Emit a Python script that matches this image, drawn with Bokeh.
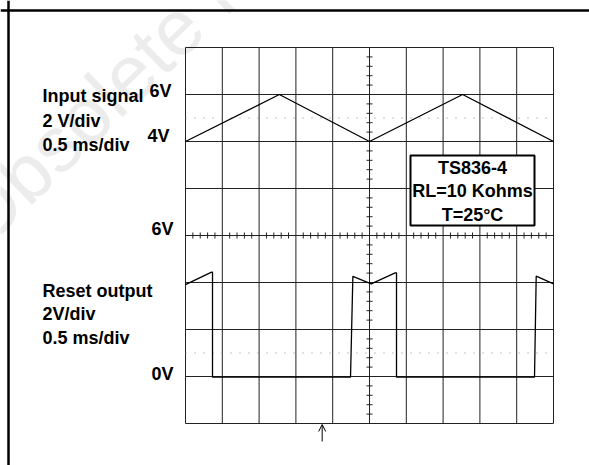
import numpy as np
from bokeh.plotting import figure
from bokeh.models import Range1d, Label, Span, Arrow, OpenHead
from bokeh.embed import file_html
from bokeh.resources import INLINE

# ---------------- data ----------------
# input signal (time in ms, volts)
input_t = [0.0, 1.275, 2.5, 3.765, 5.0]
input_v = [4.0, 6.0, 4.0, 6.0, 4.0]
# reset output (time in ms, volts)
reset_t = [0.0, 0.354, 0.367, 0.367, 2.242, 2.274, 2.523, 2.849, 2.867, 2.867, 4.742, 4.765, 5.0]
reset_v = [3.91, 4.44, 4.44, -0.03, -0.03, 4.26, 3.94, 4.41, 4.41, -0.03, -0.03, 4.27, 3.94]
input_labels = ["Input signal", "2 V/div", "0.5 ms/div"]
reset_labels = ["Reset output", "2V/div", "0.5 ms/div"]
level_labels = ["6V", "4V", "6V", "0V"]
box_lines = ["TS836-4", "RL=10 Kohms", "T=25°C"]
ms_per_div = 0.5
v_per_div = 2.0
n_xdiv = 10
n_ydiv = 8
input_ref_div, input_ref_v = 6, 4.0   # 4V at division 6
reset_ref_div, reset_ref_v = 1, 0.0   # 0V at division 1
trigger_t = 1.857

# ---------------- layout (page pixels) ----------------
W, H = 589, 465
OX, OY = 0, 0
gx0, gx1 = 185.0, 553.0
gy0, gy1 = 47.0, 423.0
dxp = (gx1 - gx0) / n_xdiv
dyp = (gy1 - gy0) / n_ydiv
TXT_DY = 7  # label baseline correction

def px_t(px):
    return (px - gx0) / dxp * ms_per_div

def py_d(py):
    return (gy1 - py) / dyp

x_range = Range1d(px_t(OX), px_t(OX + W))
y_range = Range1d(py_d(OY + H), py_d(OY))

p = figure(width=W, height=H, x_range=x_range, y_range=y_range,
           x_axis_type=None, y_axis_type=None, toolbar_location=None,
           output_backend="svg", min_border=0)
p.outline_line_color = None
p.grid.visible = False
p.background_fill_color = "white"

d0, d1 = y_range.start, y_range.end
p.extra_y_ranges = {
    "input": Range1d(input_ref_v + v_per_div * (d0 - input_ref_div),
                     input_ref_v + v_per_div * (d1 - input_ref_div)),
    "reset": Range1d(reset_ref_v + v_per_div * (d0 - reset_ref_div),
                     reset_ref_v + v_per_div * (d1 - reset_ref_div)),
}

FONT = "Liberation Sans"
FS = "18px"

def sx(px):
    return px - OX

def sy(py):
    return OY + H - py

# watermark
p.add_layout(Label(x=sx(-4), y=sy(262), x_units="screen", y_units="screen",
                   text="Obsolete Product(s)", angle=44, angle_units="deg",
                   text_font=FONT, text_font_size="78px", text_color="#ececec",
                   level="underlay"))

# graticule
xt = [ms_per_div * i for i in range(n_xdiv + 1)]
p.segment(x0=xt, y0=[0] * len(xt), x1=xt, y1=[n_ydiv] * len(xt),
          line_color="#222222", line_width=1)
yd = list(range(n_ydiv + 1))
p.segment(x0=[0] * len(yd), y0=yd, x1=[n_xdiv * ms_per_div] * len(yd), y1=yd,
          line_color="#222222", line_width=1)

# minor ticks on the centre lines
cx = n_xdiv / 2 * ms_per_div
cy = n_ydiv / 2
mx = [v for v in np.arange(0, n_xdiv * ms_per_div + 1e-9, ms_per_div / 5)
      if abs(v / ms_per_div - round(v / ms_per_div)) > 1e-6]
p.segment(x0=mx, y0=[cy - 3 / dyp] * len(mx), x1=mx, y1=[cy + 3 / dyp] * len(mx),
          line_color="#222222", line_width=1)
my = [v for v in np.arange(0, n_ydiv + 1e-9, 0.2) if abs(v - round(v)) > 1e-6]
hw = 3 / dxp * ms_per_div
p.segment(x0=[cx - hw] * len(my), y0=my, x1=[cx + hw] * len(my), y1=my,
          line_color="#222222", line_width=1)

# dotted reference lines
for yy in (6.5, 1.5):
    p.line([0, n_xdiv * ms_per_div], [yy, yy], line_color="#808080",
           line_width=1, line_dash="1 8")

# traces
p.line(input_t, input_v, y_range_name="input", line_color="black", line_width=1.3)
p.line(reset_t, reset_v, y_range_name="reset", line_color="black", line_width=1.3)

# info box (glyph level, below the text annotations)
p.quad(left=[px_t(410)], right=[px_t(534)], top=[py_d(155)], bottom=[py_d(225)],
       fill_color="white", line_color="black", line_width=2)

# outer frame (top & left)
p.add_layout(Span(location=py_d(10), dimension="width", line_color="black", line_width=2.5))
p.add_layout(Span(location=px_t(8), dimension="height", line_color="black", line_width=2.5))

# trigger arrow
p.add_layout(Arrow(end=OpenHead(size=7, line_width=1, line_color="black"),
                   x_start=trigger_t, y_start=py_d(441), x_end=trigger_t, y_end=py_d(424),
                   line_color="black", line_width=1))

def lab(txt, x, y, align="left"):
    p.add_layout(Label(x=sx(x), y=sy(y - TXT_DY), x_units="screen", y_units="screen", text=txt,
                       text_font=FONT, text_font_size=FS, text_font_style="bold",
                       text_color="black", text_align=align, text_baseline="alphabetic"))

for t, yy in zip(input_labels, [102, 127, 151]):
    lab(t, 42, yy)
for t, yy in zip(reset_labels, [297, 320.5, 344]):
    lab(t, 42, yy)
for t, (xx, yy) in zip(level_labels, [(171, 97), (169, 142.5), (173, 235), (173, 380.5)]):
    lab(t, xx, yy, "right")
for t, yy in zip(box_lines, [174, 197.5, 221]):
    lab(t, 472, yy, "center")

open("out.html", "w").write(file_html(p, INLINE))
